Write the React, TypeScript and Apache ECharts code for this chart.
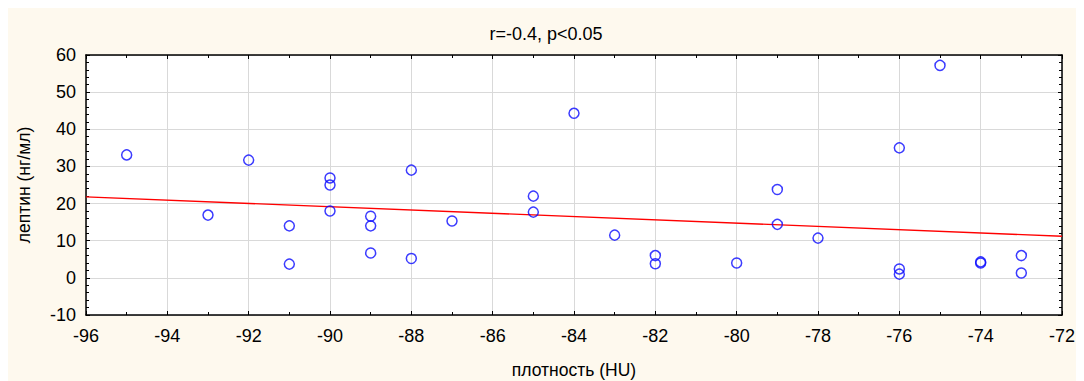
import React, { useEffect, useRef } from "react";
import * as echarts from "echarts";

// Density (HU) of each observation
const density = [
  -95, -93, -92, -91, -91, -90, -90, -90, -89, -89, -89, -88, -88, -87, -85, -85,
  -84, -83, -82, -82, -80, -79, -79, -78, -76, -76, -76, -75, -74, -74, -73, -73,
];
// Leptin (ng/ml) of each observation
const leptin = [
  33.1, 16.9, 31.7, 14.0, 3.7, 26.9, 25.0, 18.0, 16.6, 14.0, 6.7, 29.0, 5.2, 15.3, 22.0, 17.7,
  44.3, 11.5, 6.0, 3.8, 4.0, 23.8, 14.4, 10.7, 35.0, 2.4, 1.0, 57.2, 4.0, 4.3, 6.0, 1.3,
];
// Regression line end points
const fitX = [-96, -72];
const fitY = [21.8, 11.2];

const xTicks = { min: -96, max: -72, interval: 2 };
const yTicks = { min: -10, max: 60, interval: 10 };

const FONT = "'Liberation Sans', Arial, sans-serif";

export default function App() {
  const ref = useRef<HTMLDivElement>(null);

  useEffect(() => {
    if (!ref.current) return;
    const chart = echarts.init(ref.current, null, { renderer: "svg" });

    const axisLine = { show: true, onZero: false, lineStyle: { color: "#000", width: 1.5 } };
    const tick = { show: true, inside: true, length: 4, lineStyle: { color: "#000", width: 1 } };
    const minorX = { show: true, splitNumber: 2, length: 3, lineStyle: { color: "#000", width: 1 } };
    const minorY = { show: true, splitNumber: 5, length: 3, lineStyle: { color: "#000", width: 1 } };
    const label = { color: "#000", fontSize: 18, fontFamily: FONT };
    const nameStyle = { color: "#000", fontSize: 17.5, fontWeight: "normal", fontFamily: FONT };

    chart.setOption({
      animation: false,
      backgroundColor: "#fef9ee",
      title: {
        text: "r=-0.4, p<0.05",
        left: "center",
        top: 12,
        textStyle: { color: "#000", fontSize: 18, fontWeight: "normal", fontFamily: FONT },
      },
      grid: {
        left: 78,
        right: 22,
        top: 47,
        bottom: 66,
        containLabel: false,
        outerBoundsMode: "none",
        backgroundColor: "#fff",
        show: true,
        borderWidth: 0,
      },
      xAxis: [
        {
          type: "value",
          ...xTicks,
          position: "bottom",
          axisLine,
          axisTick: tick,
          minorTick: minorX,
          axisLabel: { ...label, margin: 12 },
          splitLine: { show: true, lineStyle: { color: "#d9d9d9", width: 1 } },
          name: "плотность (HU)",
          nameLocation: "middle",
          nameGap: 46,
          nameTextStyle: nameStyle,
        },
        {
          type: "value",
          ...xTicks,
          position: "top",
          axisLine,
          axisTick: tick,
          minorTick: minorX,
          axisLabel: { show: false },
          splitLine: { show: false },
        },
      ],
      yAxis: [
        {
          type: "value",
          ...yTicks,
          position: "left",
          axisLine,
          axisTick: tick,
          minorTick: minorY,
          axisLabel: { ...label, margin: 10 },
          splitLine: { show: true, lineStyle: { color: "#d9d9d9", width: 1 } },
          name: "лептин (нг/мл)",
          nameLocation: "middle",
          nameGap: 53,
          nameTextStyle: nameStyle,
        },
        {
          type: "value",
          ...yTicks,
          position: "right",
          axisLine,
          axisTick: tick,
          minorTick: minorY,
          axisLabel: { show: false },
          splitLine: { show: false },
        },
      ],
      series: [
        {
          type: "line",
          data: fitX.map((x, i) => [x, fitY[i]]),
          symbol: "none",
          lineStyle: { color: "#ff0000", width: 1.3 },
          z: 2,
        },
        {
          type: "scatter",
          data: density.map((x, i) => [x, leptin[i]]),
          symbol: "circle",
          symbolSize: 10,
          itemStyle: { color: "rgba(0,0,0,0)", borderColor: "#0a0aff", borderWidth: 1.5 },
          z: 3,
        },
      ],
    });

    return () => chart.dispose();
  }, []);

  return <div ref={ref} style={{ width: 1076, height: 373 }} />;
}
